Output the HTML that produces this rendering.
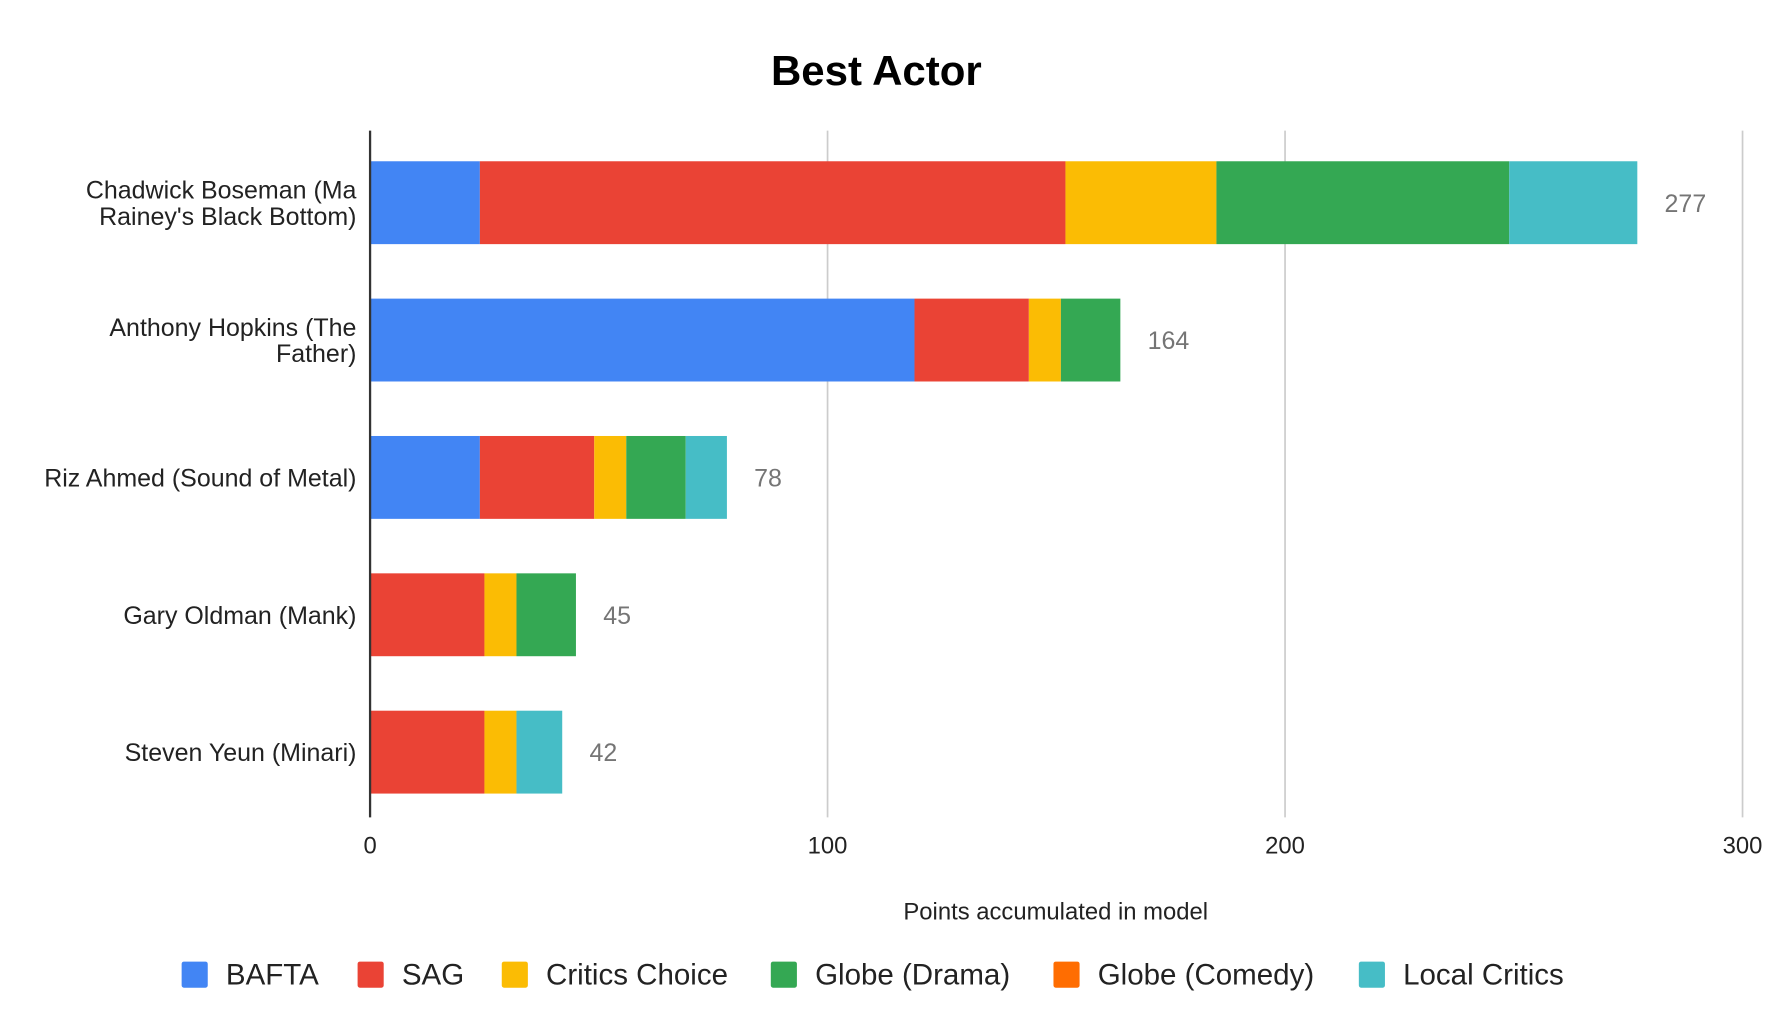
<!DOCTYPE html>
<html><head><meta charset="utf-8"><style>
html,body{margin:0;padding:0;background:#fff;}
svg{display:block;font-family:"Liberation Sans",Arial,sans-serif;}
</style></head><body>
<svg id="chart" width="1780" height="1015" viewBox="0 0 1568 894" xmlns="http://www.w3.org/2000/svg">
<rect width="1568" height="894" fill="#fff"/>
<text x="772" y="75" text-anchor="middle" font-size="37" font-weight="bold" fill="#000">Best Actor</text>
<g id="grid"></g><g id="bars"></g><g id="labels"></g><g id="legend"></g>
<text x="930" y="810" text-anchor="middle" font-size="21" fill="#222">Points accumulated in model</text>
</svg>
<script>
const categories = [["Chadwick Boseman (Ma","Rainey's Black Bottom)"],["Anthony Hopkins (The","Father)"],["Riz Ahmed (Sound of Metal)"],["Gary Oldman (Mank)"],["Steven Yeun (Minari)"]];
const seriesNames = ["BAFTA","SAG","Critics Choice","Globe (Drama)","Globe (Comedy)","Local Critics"];
const seriesColors = ["#4285f4","#ea4335","#fbbc04","#34a853","#ff6d01","#46bdc6"];
const bafta = [24,119,24,0,0];
const sag = [128,25,25,25,25];
const criticsChoice = [33,7,7,7,7];
const globeDrama = [64,13,13,13,0];
const globeComedy = [0,0,0,0,0];
const localCritics = [28,0,9,0,10];
const totals = [277,164,78,45,42];
const ticks = [0,100,200,300];

const series=[bafta,sag,criticsChoice,globeDrama,globeComedy,localCritics];
const NS="http://www.w3.org/2000/svg";
const x0=326,x1=1535,yTop=115,yBottom=720,maxV=300;
const xs=v=>x0+(v/maxV)*(x1-x0);
const band=(yBottom-yTop)/categories.length;
const yc=i=>yTop+band*(i+0.5)+3;
const bh=73;
function mk(tag,attrs,parent){const e=document.createElementNS(NS,tag);for(const k in attrs)e.setAttribute(k,attrs[k]);parent.appendChild(e);return e;}
const grid=document.getElementById('grid'),bars=document.getElementById('bars'),labels=document.getElementById('labels'),legend=document.getElementById('legend');
ticks.forEach(t=>{
  if(t>0){const l=mk('line',{x1:xs(t),x2:xs(t),y1:yTop,y2:yBottom,stroke:'#cccccc','stroke-width':1.5},grid);
  
  }
  const tx=mk('text',{x:xs(t),y:752,'text-anchor':'middle','font-size':21,fill:'#222'},labels);
  tx.textContent=t;
  
  
});
categories.forEach((c,i)=>{
  let acc=0;
  series.forEach((s,j)=>{
    const v=s[i]; if(!v) return;
    const r=mk('rect',{x:xs(acc),y:yc(i)-bh/2,width:xs(acc+v)-xs(acc),height:bh,fill:seriesColors[j]},bars);
    
    
    acc+=v;
  });
  const vl=mk('text',{x:xs(totals[i])+24,y:yc(i)+8,'font-size':22,fill:'#757575'},labels);
  vl.textContent=totals[i];
  
  
  const cl=mk('text',{x:314,'text-anchor':'end','font-size':22,fill:'#222'},labels);
  
  
  c.forEach((line,k)=>{const ts=mk('tspan',{x:314,y:yc(i)+8+(k-(c.length-1)/2)*23},cl);ts.textContent=line;});
});
const ax=mk('line',{x1:x0,x2:x0,y1:yTop,y2:yBottom,stroke:'#333','stroke-width':2},labels);


const lx=[160,315,442,679,928,1197];
seriesNames.forEach((n,j)=>{
  const g=mk('g',{},legend);
  
  
  mk('rect',{x:lx[j],y:847,width:23,height:23,rx:2,fill:seriesColors[j]},g);
  const t=mk('text',{x:lx[j]+39,y:867,'font-size':26,fill:'#222'},g);
  t.textContent=n;
});
</script>
</body></html>
